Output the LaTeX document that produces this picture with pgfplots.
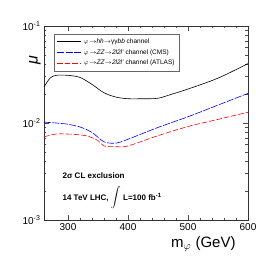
\documentclass[border=0pt]{standalone}
\usepackage{pgfplots}
\pgfplotsset{compat=1.18}
\usepackage{fontspec}
\setmainfont{Liberation Sans}
\begin{document}
\begin{tikzpicture}
\begin{axis}[
  name=ax,
  scale only axis, width=204pt, height=194pt,
  xmin=260, xmax=600, ymode=log, ymin=1e-3, ymax=1e-1,
  xtick={300,400,500,600}, minor x tick num=4,
  ytick={0.001,0.01,0.1},
  yticklabels={10\textsuperscript{-3},10\textsuperscript{-2},10\textsuperscript{-1}},
  /pgf/number format/assume math mode=true,
  tick align=inside, tick pos=both,
  major tick length=5pt, minor tick length=2.5pt,
  tick style={black!70, line width=0.5pt},
  axis line style={black!80, line width=0.9pt},
  ticklabel style={font=\fontsize{10}{11}\selectfont},
  xlabel={m\textsubscript{$\varphi$} (GeV)},
  xlabel style={font=\fontsize{15}{16}\selectfont, at={(rel axis cs:0.945,0)}, anchor=north east, yshift=-15pt, inner sep=1pt},
  ylabel={\textit{μ}},
  ylabel style={font=\fontsize{16}{17}\selectfont, at={(rel axis cs:0,1)}, anchor=south east, xshift=-30pt, yshift=3pt, inner sep=0pt},
  legend style={at={(0.05,0.96)}, anchor=north west, draw=black!60, line width=0.5pt,
    font=\fontsize{6.5}{7.5}\selectfont, row sep=0.6pt, inner sep=2.5pt},
  legend cell align=left,
  legend image code/.code={\draw[#1] (0pt,0pt) -- (24pt,0pt);},
]
\addplot[black, line width=0.6pt, smooth] coordinates {
(260,0.0235) (270,0.029) (280,0.031) (300,0.031) (320,0.0295) (340,0.025) (360,0.0205) (380,0.0185) (400,0.0178) (425,0.0178) (450,0.018) (475,0.02) (500,0.0224) (550,0.029) (600,0.041)};
\addlegendentry{$\varphi\!\rightarrow$\textit{hh}$\rightarrow$γγ\textit{bb} channel}
\addplot[blue, line width=0.6pt, dash pattern=on 7pt off 1.5pt, smooth] coordinates {
(260,0.0102) (280,0.0100) (300,0.0097) (320,0.0091) (340,0.0080) (360,0.0064) (380,0.0062) (400,0.0068) (450,0.0090) (500,0.0116) (550,0.0153) (600,0.0202)};
\addlegendentry{$\varphi\!\rightarrow$\textit{ZZ}$\rightarrow$\textit{2l2l'} channel (CMS)}
\addplot[red, line width=0.6pt, dash pattern=on 5.5pt off 2pt, smooth] coordinates {
(260,0.0072) (280,0.0077) (300,0.0077) (330,0.0074) (350,0.0066) (360,0.0058) (380,0.0057) (400,0.0058) (450,0.0074) (500,0.0092) (550,0.0109) (600,0.0129)};
\addlegendentry{$\varphi\!\rightarrow$\textit{ZZ}$\rightarrow$\textit{2l2l'} channel (ATLAS)}
\node[anchor=west, font=\fontsize{8}{9}\selectfont\bfseries, inner sep=1pt] at (axis cs:289,0.00285) {2σ CL exclusion};
\node[anchor=west, font=\fontsize{8}{9}\selectfont\bfseries, inner sep=1pt] at (axis cs:289,0.00172) {14 TeV LHC, \smash{$\displaystyle\int$} L=100 fb\textsuperscript{-1}};
\end{axis}
\useasboundingbox ([shift={(-44pt,-42pt)}]ax.south west) rectangle ([shift={(28pt,26pt)}]ax.north east);
\end{tikzpicture}
\end{document}
